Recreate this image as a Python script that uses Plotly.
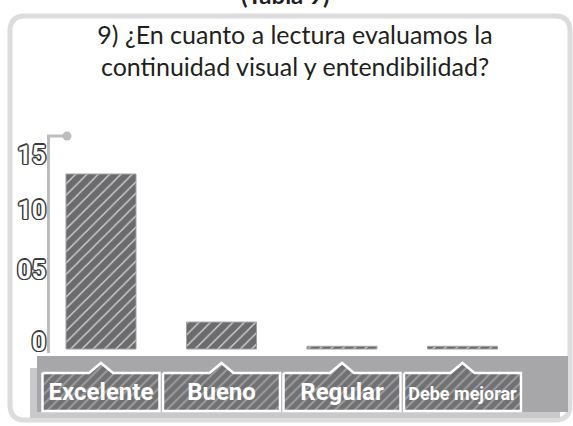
import plotly.graph_objects as go

# ---- data -------------------------------------------------------------
categories = ["Excelente", "Bueno", "Regular", "Debe mejorar"]
respuestas = [13, 2, 0.2, 0.2]
y_tick_text = ["0", "05", "10", "15"]
y_tick_vals = [0.52, 5.87, 10.33, 14.41]

title_text = "9) ¿En cuanto a lectura evaluamos la<br>continuidad visual y entendibilidad?"
header_text = "(Tabla 9)"

# ---- canvas geometry (pixels) ------------------------------------------
W, H = 573, 426
PLOT_LEFT = 40.75          # pixel of x = -0.5
PITCH = 120.5              # pixels per category
BASE_PX = 349              # pixel row of y = 0
UNIT = 13.46               # pixels per unit on y
TOP_PX, BOT_PX = 130, 420  # vertical extent of the subplot


def px(x):
    return x / W


def py(y):
    return 1 - y / H


def ydata(pix):
    return (BASE_PX - pix) / UNIT


def sized(t, size=None):
    return f"<span style='font-size:{size}px'>{t}</span>" if size else t


LABEL_FONT = "Roboto, Noto Sans, sans-serif"
outline = ",".join(
    f"{dx}px {dy}px 0 #3c3c3e"
    for dx, dy in [(-1.5, 0), (1.5, 0), (0, -1.5), (0, 1.5),
                   (-1, -1), (1, -1), (-1, 1), (1, 1)]
)

x_idx = list(range(len(categories)))

fig = go.Figure()

# hatched label plates (with the small pointer notch) under each category
half = 58.5 / PITCH
notch = 12 / PITCH
top, bot, peak = ydata(373), ydata(411), ydata(363)
bx, by = [], []
for i in x_idx:
    bx += [i - half, i - notch, i, i + notch, i + half, i + half, i - half, i - half, None]
    by += [top, top, peak, top, top, bot, bot, top, None]
fig.add_trace(go.Scatter(
    x=bx, y=by, mode="lines", fill="toself",
    line=dict(color="white", width=2.5),
    fillcolor="#737375",
    fillpattern=dict(shape="/", bgcolor="#717173", fgcolor="#a2a2a4",
                     size=7, solidity=0.25),
    hoverinfo="skip", showlegend=False,
))

# bars
fig.add_trace(go.Bar(
    x=x_idx, y=respuestas,
    marker=dict(
        color="#6b6b6d",
        line=dict(color="#a0a0a2", width=1),
        pattern=dict(shape="/", bgcolor="#6b6b6d", fgcolor="#cfcfd1",
                     size=8, solidity=0.18),
    ),
    hoverinfo="x+y", showlegend=False,
))

shapes = []
# rounded outer frame
x0, x1, y0, y1, r = px(10), px(570), py(16), py(420), 15
rx, ry = r / W, r / H
shapes.append(dict(
    type="path", xref="paper", yref="paper", layer="below",
    path=(f"M {x0+rx},{y0} L {x1-rx},{y0} Q {x1},{y0} {x1},{y0-ry} "
          f"L {x1},{y1+ry} Q {x1},{y1} {x1-rx},{y1} "
          f"L {x0+rx},{y1} Q {x0},{y1} {x0},{y1+ry} "
          f"L {x0},{y0-ry} Q {x0},{y0} {x0+rx},{y0} Z"),
    line=dict(color="#dcdcde", width=5), fillcolor="white",
))
# category band and its shadow
shapes.append(dict(type="rect", xref="paper", yref="paper", layer="below",
                   x0=px(30), x1=px(560), y0=py(418), y1=py(368),
                   fillcolor="#c9c9cb", line_width=0))
shapes.append(dict(type="rect", xref="paper", yref="paper", layer="below",
                   x0=px(37), x1=px(568), y0=py(412), y1=py(356),
                   fillcolor="#a7a7a9", line_width=0))
# value axis line with its end cap
shapes.append(dict(type="path", xref="paper", yref="paper",
                   path=f"M {px(48.5)},{py(353)} L {px(48.5)},{py(136)} L {px(67)},{py(136)}",
                   line=dict(color="#bdbdc0", width=3)))
shapes.append(dict(type="circle", xref="paper", yref="paper",
                   x0=px(62.5), x1=px(71.5), y0=py(140.5), y1=py(131.5),
                   fillcolor="#bdbdc0", line_width=0))

tick_labels = [sized(c) if len(c) < 10 else sized(c, 18) for c in categories]

fig.update_layout(
    template="none",
    width=W, height=H,
    margin=dict(l=0, r=0, t=0, b=0, autoexpand=False),
    paper_bgcolor="white", plot_bgcolor="rgba(0,0,0,0)",
    bargap=1 - 70 / PITCH,
    shapes=shapes,
    title=dict(text=title_text, x=px(295), xanchor="center",
               y=py(43.5), yanchor="middle", yref="paper",
               font=dict(family="Lato, Open Sans, sans-serif", size=25, color="#231f20")),
    xaxis=dict(
        domain=[px(PLOT_LEFT), px(PLOT_LEFT + 4 * PITCH)],
        range=[-0.5, 3.5], anchor="free", position=py(375),
        tickvals=x_idx, ticktext=tick_labels, tickangle=0, automargin=False,
        showgrid=False, zeroline=False, showline=False, ticks="",
        tickfont=dict(family=LABEL_FONT, size=24, color="white", weight="bold"),
    ),
    yaxis=dict(
        domain=[py(BOT_PX), py(TOP_PX)],
        range=[ydata(BOT_PX), ydata(TOP_PX)],
        anchor="free", position=px(46), automargin=False,
        tickvals=y_tick_vals, ticktext=y_tick_text,
        showgrid=False, zeroline=False, showline=False, ticks="",
        tickfont=dict(family=LABEL_FONT, size=25, color="white", weight="bold",
                      shadow=outline),
    ),
    annotations=[dict(
        text=f"<b>{header_text}</b>", xref="paper", yref="paper",
        x=px(285), y=py(-5), xanchor="center", yanchor="middle",
        showarrow=False, font=dict(family="Lato, Open Sans, sans-serif", size=24, color="#231f20"),
    )],
)

fig.write_html("out.html")
